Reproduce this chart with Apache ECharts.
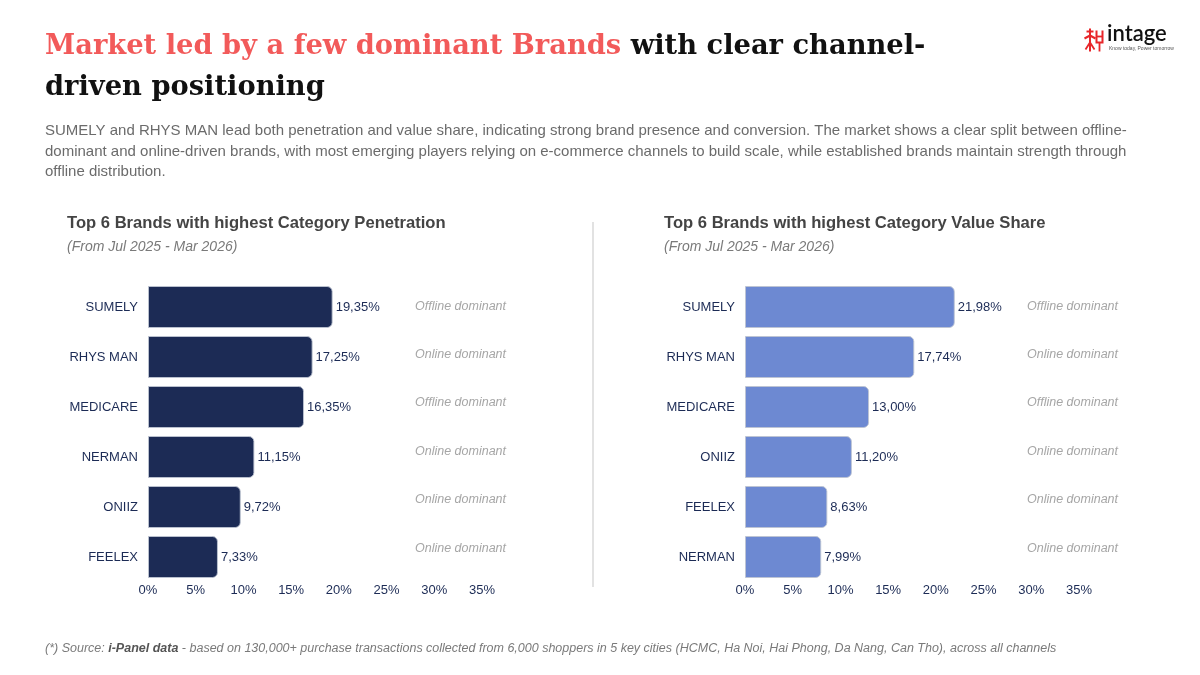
<!DOCTYPE html>
<html>
<head>
<meta charset="utf-8">
<script src="https://cdn.jsdelivr.net/npm/echarts@6/dist/echarts.min.js"></script>
<style>
html,body{margin:0;padding:0;background:#fff;}
#main{width:1200px;height:675px;}
</style>
</head>
<body>
<div id="main"></div>
<script>
// ---- data ----
const penBrands = ['SUMELY', 'RHYS MAN', 'MEDICARE', 'NERMAN', 'ONIIZ', 'FEELEX'];
const penValues = [19.35, 17.25, 16.35, 11.15, 9.72, 7.33];
const penChannels = ['Offline dominant', 'Online dominant', 'Offline dominant', 'Online dominant', 'Online dominant', 'Online dominant'];

const valBrands = ['SUMELY', 'RHYS MAN', 'MEDICARE', 'ONIIZ', 'FEELEX', 'NERMAN'];
const valValues = [21.98, 17.74, 13.00, 11.20, 8.63, 7.99];
const valChannels = ['Offline dominant', 'Online dominant', 'Offline dominant', 'Online dominant', 'Online dominant', 'Online dominant'];

const axisMin = 0, axisMax = 35, axisStep = 5;

const titleRed = 'Market led by a few dominant Brands';
const titleBlack1 = ' with clear channel-';
const titleBlack2 = 'driven positioning';
const paragraph = [
  'SUMELY and RHYS MAN lead both penetration and value share, indicating strong brand presence and conversion. The market shows a clear split between offline-',
  'dominant and online-driven brands, with most emerging players relying on e-commerce channels to build scale, while established brands maintain strength through',
  'offline distribution.'
];
const leftTitle = 'Top 6 Brands with highest Category Penetration';
const rightTitle = 'Top 6 Brands with highest Category Value Share';
const period = '(From Jul 2025 - Mar 2026)';
const footPre = '(*) Source: ';
const footBold = 'i-Panel data';
const footPost = ' - based on 130,000+ purchase transactions collected from 6,000 shoppers in 5 key cities (HCMC, Ha Noi, Hai Phong, Da Nang, Can Tho), across all channels';

// ---- styles ----
const NAVY = '#1c2b55';
const BLUE = '#6d89d2';
const SANS = '"Liberation Sans", Arial, Helvetica, sans-serif';
const SERIF = '"DejaVu Serif", Georgia, serif';
const fmtPct = v => v.toFixed(2).replace('.', ',') + '%';

const chart = echarts.init(document.getElementById('main'), null, {renderer: 'canvas'});

function barGrid(left) {
  return {left: left, width: 334, top: 282, height: 300, containLabel: false};
}
function annGrid(left) {
  return {left: left, width: 110, top: 282, height: 290.4, containLabel: false};
}
function valueAxis(gi) {
  return {
    type: 'value', gridIndex: gi, min: axisMin, max: axisMax, interval: axisStep,
    axisLine: {show: false}, axisTick: {show: false}, splitLine: {show: false},
    axisLabel: {color: NAVY, fontFamily: SANS, fontSize: 13, margin: 2, formatter: v => v + '%'}
  };
}
function catAxis(gi, data) {
  return {
    type: 'category', gridIndex: gi, data: data, inverse: true,
    axisLine: {show: false}, axisTick: {show: false},
    axisLabel: {color: NAVY, fontFamily: SANS, fontSize: 13, margin: 10}
  };
}
function annXAxis(gi) {
  return {type: 'value', gridIndex: gi, show: false, min: 0, max: 1};
}
function annYAxis(gi, data) {
  return {
    type: 'category', gridIndex: gi, data: data, inverse: true,
    axisLine: {show: false}, axisTick: {show: false},
    axisLabel: {color: '#a6a6a6', fontFamily: SANS, fontSize: 12.5, fontStyle: 'italic', align: 'left', margin: 0}
  };
}
function barSeries(idx, values, color) {
  return {
    type: 'bar', xAxisIndex: idx, yAxisIndex: idx, data: values, barWidth: 42,
    itemStyle: {color: color, borderRadius: [0, 5, 5, 0], borderColor: 'rgba(190,196,210,0.9)', borderWidth: 1},
    label: {show: true, position: 'right', distance: 3, color: NAVY, fontFamily: SANS, fontSize: 13,
      formatter: p => fmtPct(p.value)},
    silent: true, animation: false
  };
}

const option = {
  backgroundColor: '#ffffff',
  animation: false,
  grid: [barGrid(148), barGrid(745), annGrid(415), annGrid(1027)],
  xAxis: [valueAxis(0), valueAxis(1), annXAxis(2), annXAxis(3)],
  yAxis: [catAxis(0, penBrands), catAxis(1, valBrands), annYAxis(2, penChannels), annYAxis(3, valChannels)],
  series: [
    barSeries(0, penValues, NAVY),
    barSeries(1, valValues, BLUE),
    {type: 'scatter', xAxisIndex: 2, yAxisIndex: 2, data: [], silent: true},
    {type: 'scatter', xAxisIndex: 3, yAxisIndex: 3, data: [], silent: true}
  ],
  graphic: [
    {type: 'text', left: 45, top: 33, silent: true, style: {
      text: '{r|' + titleRed + '}{k|' + titleBlack1 + '}\n{k|' + titleBlack2 + '}',
      rich: {
        r: {fill: '#f25a5a', font: 'bold 27.3px ' + SERIF, lineHeight: 41},
        k: {fill: '#111111', font: 'bold 27.3px ' + SERIF, lineHeight: 41}
      }
    }},
    {type: 'text', left: 45, top: 121, silent: true, style: {
      text: paragraph.join('\n'), fill: '#6b6b6b', font: '15px ' + SANS, lineHeight: 20.5
    }},
    {type: 'text', left: 67, top: 215, silent: true, style: {
      text: leftTitle, fill: '#444444', font: 'bold 16.6px ' + SANS
    }},
    {type: 'text', left: 67, top: 240, silent: true, style: {
      text: period, fill: '#7a7a7a', font: 'italic 14px ' + SANS
    }},
    {type: 'text', left: 664, top: 215, silent: true, style: {
      text: rightTitle, fill: '#444444', font: 'bold 16.6px ' + SANS
    }},
    {type: 'text', left: 664, top: 240, silent: true, style: {
      text: period, fill: '#7a7a7a', font: 'italic 14px ' + SANS
    }},
    {type: 'line', silent: true, shape: {x1: 593, y1: 222, x2: 593, y2: 587},
      style: {stroke: '#d9d9d9', lineWidth: 1.5}},
    {type: 'text', left: 45, top: 642, silent: true, style: {
      text: '{i|' + footPre + '}{b|' + footBold + '}{i|' + footPost + '}',
      rich: {
        i: {fill: '#7a7a7a', font: 'italic 12.5px ' + SANS},
        b: {fill: '#555555', font: 'italic bold 12.5px ' + SANS}
      }
    }},
    // logo
    {type: 'group', left: 1082, top: 26, silent: true, children: [
      {type: 'polyline', shape: {points: [[2, 3], [9, 3]]}, style: {stroke: '#e8262a', lineWidth: 2}},
      {type: 'polyline', shape: {points: [[5.5, 0], [5.5, 23]]}, style: {stroke: '#e8262a', lineWidth: 2}},
      {type: 'polyline', shape: {points: [[0, 10], [5.5, 7], [11, 10]]}, style: {stroke: '#e8262a', lineWidth: 2, fill: 'none'}},
      {type: 'polyline', shape: {points: [[1, 21], [5.5, 14], [10, 21]]}, style: {stroke: '#e8262a', lineWidth: 1.8, fill: 'none'}},
      {type: 'polyline', shape: {points: [[12, 2], [12, 14], [18, 14], [18, 2]]}, style: {stroke: '#e8262a', lineWidth: 2, fill: 'none'}},
      {type: 'polyline', shape: {points: [[12, 8], [18, 8]]}, style: {stroke: '#e8262a', lineWidth: 1.8}},
      {type: 'polyline', shape: {points: [[15, 14], [15, 23]]}, style: {stroke: '#e8262a', lineWidth: 1.8}}
    ]},
    {type: 'text', left: 1107, top: 23, silent: true, style: {
      text: 'intage', fill: '#111111', font: '600 22px Lato, ' + SANS
    }},
    {type: 'text', left: 1109, top: 46, silent: true, style: {
      text: 'Know today, Power tomorrow', fill: '#555555', font: '5px ' + SANS
    }}
  ]
};
chart.setOption(option);
</script>
</body>
</html>
